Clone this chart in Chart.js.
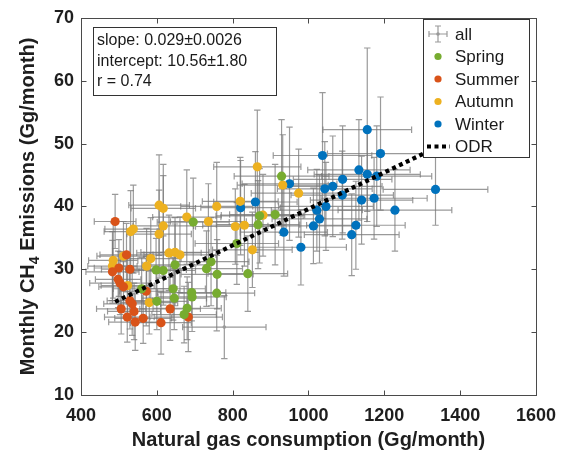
<!DOCTYPE html>
<html>
<head>
<meta charset="utf-8">
<script src="https://cdn.jsdelivr.net/npm/chart.js@4.4.1/dist/chart.umd.min.js"></script>
<style>
html,body{margin:0;padding:0;background:#fff;}
#wrap{width:566px;height:457px;position:relative;}
</style>
</head>
<body>
<div id="wrap"><canvas id="c" width="566" height="457"></canvas></div>
<script>
// ---- tick labels ----
const xTickValues = [400, 600, 800, 1000, 1200, 1400, 1600];
const yTickValues = [10, 20, 30, 40, 50, 60, 70];

// ---- Spring ----
const springX    = [696, 648, 598, 617, 731, 743, 759, 560, 643, 692, 646, 693, 758, 600, 680, 672, 811, 840, 867, 871, 912, 929];
const springY    = [37.5, 30.7, 29.9, 29.8, 30.1, 31.2, 29.2, 26.9, 26.9, 26.3, 25.4, 25.6, 26.2, 24.9, 23.8, 22.8, 34.1, 29.3, 37.1, 38.5, 38.7, 44.8];
const springXErr = [95, 85, 80, 85, 95, 100, 95, 75, 85, 90, 85, 90, 100, 80, 90, 85, 110, 105, 110, 115, 120, 125];
const springYErr = [7, 6.5, 5, 5.5, 6, 7, 5.5, 5, 5, 4.5, 5, 5.5, 6, 4.5, 5, 4.5, 6.5, 6, 7, 7.5, 8, 9];

// ---- Summer ----
const summerX    = [490, 520, 500, 529, 483, 498, 503, 512, 572, 529, 535, 506, 540, 635, 522, 543, 564, 611, 683];
const summerY    = [37.6, 32.3, 30.2, 30.0, 29.6, 28.4, 27.8, 27.2, 26.5, 25.0, 24.5, 23.7, 23.3, 23.7, 22.4, 21.6, 22.2, 21.5, 22.4];
const summerXErr = [55, 70, 65, 75, 70, 60, 80, 65, 70, 60, 75, 65, 70, 80, 60, 70, 75, 80, 90];
const summerYErr = [4.3, 5, 4.5, 5.5, 5, 4.5, 5, 4, 5.5, 4.5, 5, 4, 4.5, 5, 4, 4.5, 4, 5, 5.5];

// ---- Autumn ----
const autumnX    = [606, 617, 758, 679, 736, 617, 538, 531, 606, 807, 831, 820, 865, 932, 974, 880, 852, 632, 648, 661, 584, 485, 512, 573, 483, 523, 580];
const autumnY    = [40.2, 39.7, 40.0, 38.3, 37.6, 36.9, 36.4, 36.0, 35.6, 36.8, 37.0, 40.8, 46.3, 43.4, 42.1, 38.6, 33.1, 32.6, 32.7, 32.3, 31.7, 31.4, 32.1, 30.5, 30.5, 27.4, 24.7];
const autumnXErr = [80, 85, 95, 90, 100, 80, 75, 70, 85, 105, 110, 100, 115, 120, 125, 110, 105, 85, 90, 95, 80, 65, 70, 80, 65, 70, 75];
const autumnYErr = [8, 7, 7, 7.5, 6, 8, 7, 6.5, 7, 6, 6.5, 7, 9, 8, 7, 6.5, 6, 6, 5.5, 6, 6.5, 6, 5.5, 6, 5.5, 5, 5];

// ---- Winter ----
const winterX    = [1155, 1037, 1190, 1133, 1155, 1180, 1090, 950, 1064, 1043, 1089, 1335, 1140, 1173, 1046, 1022, 1228, 1029, 1013, 1125, 1114, 935, 980, 860, 821];
const winterY    = [52.2, 48.1, 48.4, 45.8, 45.1, 44.8, 44.3, 43.6, 43.2, 42.8, 41.8, 42.7, 41.0, 41.3, 40.0, 39.4, 39.4, 38.0, 36.9, 37.0, 35.5, 35.9, 33.5, 40.7, 39.8];
const winterXErr = [117, 130, 140, 135, 140, 145, 130, 125, 130, 125, 135, 138, 135, 140, 125, 120, 150, 125, 120, 130, 125, 115, 120, 110, 105];
const winterYErr = [13, 10, 9, 8, 7.5, 8, 8.5, 9, 8, 7.5, 7, 5.7, 7, 6.5, 7, 6.5, 6.5, 7, 6, 7, 6.5, 7, 6, 8, 7.5];

// ---- months without a season marker (grey only) ----
const otherX    = [778];
const otherY    = [20.8];
const otherXErr = [110];
const otherYErr = [5];

// ---- ODR fit line ----
const odrX = [490, 1335];
const odrY = [24.8, 49.3];

// ---- fit annotation ----
const fitText = ['slope: 0.029\u00b10.0026', 'intercept: 10.56\u00b11.80', 'r = 0.74'];

const FONT = "'Liberation Sans', Arial, Helvetica, sans-serif";
const COLORS = { Spring: '#77AC30', Summer: '#D95319', Autumn: '#EDB120', Winter: '#0072BD' };

function pts(xs, ys, xe, ye) {
  return xs.map((v, i) => ({ x: v, y: ys[i], xe: xe[i], ye: ye[i] }));
}
const springPts = pts(springX, springY, springXErr, springYErr);
const summerPts = pts(summerX, summerY, summerXErr, summerYErr);
const autumnPts = pts(autumnX, autumnY, autumnXErr, autumnYErr);
const winterPts = pts(winterX, winterY, winterXErr, winterYErr);
const otherPts  = pts(otherX, otherY, otherXErr, otherYErr);
const allPts = [].concat(springPts, summerPts, autumnPts, winterPts, otherPts);
const odrPts = odrX.map((v, i) => ({ x: v, y: odrY[i] }));

const ERR_COLOR = 'rgba(120,120,120,0.75)';
const AXIS_COLOR = '#4a4a4a';

// error bars for the "all" dataset, drawn through the scales
const errorBarPlugin = {
  id: 'errorBars',
  beforeDatasetsDraw(chart) {
    const { ctx, chartArea: a, scales: { x, y } } = chart;
    const ds = chart.data.datasets.find(d => d.label === 'all');
    ctx.save();
    ctx.beginPath();
    ctx.rect(a.left, a.top, a.right - a.left, a.bottom - a.top);
    ctx.clip();
    ctx.strokeStyle = ERR_COLOR;
    ctx.lineWidth = 1.2;
    const c = 3.2;
    ds.data.forEach(p => {
      const px = x.getPixelForValue(p.x), py = y.getPixelForValue(p.y);
      const x0 = x.getPixelForValue(p.x - p.xe), x1 = x.getPixelForValue(p.x + p.xe);
      const y0 = y.getPixelForValue(p.y - p.ye), y1 = y.getPixelForValue(p.y + p.ye);
      ctx.beginPath();
      ctx.moveTo(x0, py); ctx.lineTo(x1, py);
      ctx.moveTo(x0, py - c); ctx.lineTo(x0, py + c);
      ctx.moveTo(x1, py - c); ctx.lineTo(x1, py + c);
      ctx.moveTo(px, y0); ctx.lineTo(px, y1);
      ctx.moveTo(px - c, y0); ctx.lineTo(px + c, y0);
      ctx.moveTo(px - c, y1); ctx.lineTo(px + c, y1);
      ctx.stroke();
    });
    ctx.restore();
  }
};

// box, inward ticks, y title, legend and annotation
const decorPlugin = {
  id: 'decor',
  afterDraw(chart) {
    const { ctx, chartArea: a, scales: { x, y } } = chart;
    ctx.save();
    // axes box
    ctx.strokeStyle = AXIS_COLOR;
    ctx.lineWidth = 1;
    const L = Math.round(a.left) + 0.5, R = Math.round(a.right) + 0.5;
    const T = Math.round(a.top) + 0.5, B = Math.round(a.bottom) + 0.5;
    ctx.strokeRect(L, T, R - L, B - T);
    // inward ticks
    const tl = 5;
    ctx.beginPath();
    xTickValues.forEach(v => {
      const px = Math.round(x.getPixelForValue(v)) + 0.5;
      ctx.moveTo(px, B); ctx.lineTo(px, B - tl);
      ctx.moveTo(px, T); ctx.lineTo(px, T + tl);
    });
    yTickValues.forEach(v => {
      const py = Math.round(y.getPixelForValue(v)) + 0.5;
      ctx.moveTo(L, py); ctx.lineTo(L + tl, py);
      ctx.moveTo(R, py); ctx.lineTo(R - tl, py);
    });
    ctx.stroke();

    // y-axis title with subscript
    ctx.save();
    ctx.translate(28, (a.top + a.bottom) / 2);
    ctx.rotate(-Math.PI / 2);
    ctx.fillStyle = '#1e1e1e';
    ctx.textBaseline = 'middle';
    const big = 'bold 20px ' + FONT, small = 'bold 14px ' + FONT;
    const p1 = 'Monthly CH', p2 = '4', p3 = ' Emissions (Gg/month)';
    ctx.font = big; const w1 = ctx.measureText(p1).width, w3 = ctx.measureText(p3).width;
    ctx.font = small; const w2 = ctx.measureText(p2).width;
    let sx = -(w1 + w2 + w3) / 2;
    ctx.font = big; ctx.textAlign = 'left';
    ctx.fillText(p1, sx, 0); sx += w1;
    ctx.font = small; ctx.fillText(p2, sx, 7); sx += w2;
    ctx.font = big; ctx.fillText(p3, sx, 0);
    ctx.restore();

    // annotation box
    ctx.fillStyle = '#fff';
    ctx.fillRect(93.5, 27.5, 183, 68);
    ctx.strokeStyle = '#333';
    ctx.strokeRect(93.5, 27.5, 183, 68);
    ctx.fillStyle = '#1a1a1a';
    ctx.font = '16px ' + FONT;
    ctx.textAlign = 'left';
    ctx.textBaseline = 'middle';
    fitText.forEach((t, i) => ctx.fillText(t, 97, 41 + i * 20.5));

    // legend
    const lx = 423.5, ly = 19.5, lw = 106, lh = 138;
    ctx.fillStyle = '#fff';
    ctx.fillRect(lx, ly, lw, lh);
    ctx.strokeStyle = '#333';
    ctx.strokeRect(lx, ly, lw, lh);
    const order = ['all', 'Spring', 'Summer', 'Autumn', 'Winter', 'ODR'];
    ctx.font = '17px ' + FONT;
    order.forEach((lab, i) => {
      const cy = 34 + i * 22.5, sxm = 438;
      const ds = chart.data.datasets.find(d => d.label === lab);
      if (lab === 'all') {
        ctx.strokeStyle = ERR_COLOR; ctx.lineWidth = 1.2;
        ctx.beginPath();
        ctx.moveTo(429, cy); ctx.lineTo(447, cy);
        ctx.moveTo(429, cy - 3); ctx.lineTo(429, cy + 3);
        ctx.moveTo(447, cy - 3); ctx.lineTo(447, cy + 3);
        ctx.moveTo(sxm, cy - 8); ctx.lineTo(sxm, cy + 8);
        ctx.moveTo(sxm - 3, cy - 8); ctx.lineTo(sxm + 3, cy - 8);
        ctx.moveTo(sxm - 3, cy + 8); ctx.lineTo(sxm + 3, cy + 8);
        ctx.stroke();
        ctx.fillStyle = '#999';
        ctx.beginPath(); ctx.arc(sxm, cy, 1.8, 0, Math.PI * 2); ctx.fill();
      } else if (lab === 'ODR') {
        ctx.strokeStyle = '#000'; ctx.lineWidth = 4.2;
        ctx.setLineDash([4, 3.5]);
        ctx.beginPath(); ctx.moveTo(427, cy); ctx.lineTo(450, cy); ctx.stroke();
        ctx.setLineDash([]);
      } else {
        ctx.fillStyle = ds.backgroundColor;
        ctx.beginPath(); ctx.arc(sxm, cy, 3.6, 0, Math.PI * 2); ctx.fill();
      }
      ctx.fillStyle = '#1a1a1a';
      ctx.textBaseline = 'middle';
      ctx.fillText(ds.label, 455, cy + 1);
    });
    ctx.restore();
  }
};

const seasonDs = (label, data) => ({
  type: 'scatter', label, data,
  backgroundColor: COLORS[label], borderColor: COLORS[label],
  pointRadius: 4.6, pointHoverRadius: 4.6, borderWidth: 0, order: 1
});

new Chart(document.getElementById('c'), {
  type: 'scatter',
  data: {
    datasets: [
      { type: 'line', label: 'ODR', data: odrPts, borderColor: '#000', borderWidth: 4.2,
        borderDash: [4, 3.5], pointRadius: 0, fill: false, order: 0, borderCapStyle: 'butt' },
      seasonDs('Spring', springPts),
      seasonDs('Summer', summerPts),
      seasonDs('Autumn', autumnPts),
      seasonDs('Winter', winterPts),
      { type: 'scatter', label: 'all', data: allPts, backgroundColor: '#9a9a9a', borderWidth: 0,
        pointRadius: 1.8, order: 2 }
    ]
  },
  options: {
    responsive: false,
    animation: false,
    events: [],
    layout: { padding: { top: 17, right: 30, left: 0, bottom: 0 } },
    plugins: { legend: { display: false }, tooltip: { enabled: false } },
    scales: {
      x: {
        type: 'linear', min: 400, max: 1600,
        afterBuildTicks: s => { s.ticks = xTickValues.map(v => ({ value: v })); },
        afterFit: s => { s.height = 62; },
        grid: { display: false, drawTicks: false },
        border: { display: false },
        ticks: { color: '#1e1e1e', font: { family: FONT, size: 18, weight: 'bold' }, padding: 10, maxRotation: 0,
                 callback: v => String(v) },
        title: { display: true, text: 'Natural gas consumption (Gg/month)', color: '#1e1e1e',
                 font: { family: FONT, size: 20, weight: 'bold' }, padding: { top: 0, bottom: 5 } }
      },
      y: {
        type: 'linear', min: 10, max: 70,
        afterBuildTicks: s => { s.ticks = yTickValues.map(v => ({ value: v })); },
        afterFit: s => { s.width = 81; },
        grid: { display: false, drawTicks: false },
        border: { display: false },
        ticks: { color: '#1e1e1e', font: { family: FONT, size: 18, weight: 'bold' }, padding: 7,
                 callback: v => String(v) }
      }
    }
  },
  plugins: [errorBarPlugin, decorPlugin]
});
</script>
</body>
</html>
